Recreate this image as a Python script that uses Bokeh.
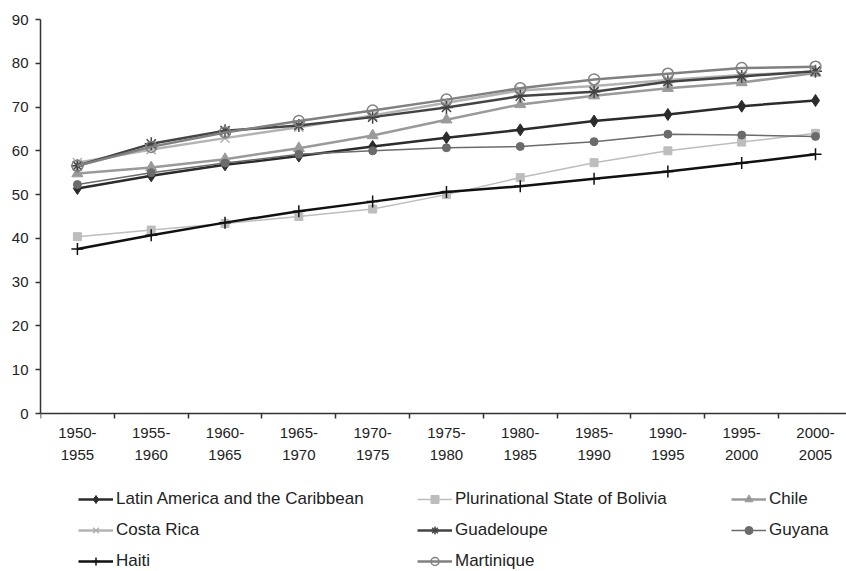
from bokeh.plotting import figure
from bokeh.models import (ColumnDataSource, Range1d, FixedTicker, Legend, LegendItem)
from bokeh.embed import file_html
from bokeh.resources import INLINE

periods = ["1950-\n1955", "1955-\n1960", "1960-\n1965", "1965-\n1970", "1970-\n1975",
           "1975-\n1980", "1980-\n1985", "1985-\n1990", "1990-\n1995", "1995-\n2000",
           "2000-\n2005"]

lac = [51.4, 54.3, 56.8, 58.8, 61.0, 63.0, 64.8, 66.8, 68.3, 70.2, 71.5]
bolivia = [40.4, 41.9, 43.4, 45.0, 46.7, 50.0, 53.9, 57.3, 60.0, 62.0, 64.0]
chile = [54.8, 56.2, 58.1, 60.6, 63.5, 67.1, 70.6, 72.6, 74.3, 75.6, 77.8]
costa_rica = [57.3, 60.3, 62.9, 65.4, 68.1, 71.0, 73.8, 74.8, 76.2, 77.3, 78.1]
guadeloupe = [56.6, 61.6, 64.6, 65.8, 67.7, 69.9, 72.5, 73.5, 75.8, 77.0, 78.2]
guyana = [52.3, 55.0, 57.2, 59.2, 60.0, 60.7, 61.0, 62.1, 63.8, 63.6, 63.3]
haiti = [37.6, 40.7, 43.6, 46.2, 48.4, 50.6, 51.9, 53.6, 55.3, 57.2, 59.2]
martinique = [56.6, 60.9, 64.2, 66.8, 69.2, 71.7, 74.3, 76.3, 77.6, 78.9, 79.2]

y_ticks = [0, 10, 20, 30, 40, 50, 60, 70, 80, 90]

series = [
    # name, values, color, line width, marker, size, marker line width, filled
    ("Latin America and the Caribbean", lac, "#2b2b2b", 2.5, "diamond", 12, 1, True),
    ("Plurinational State of Bolivia", bolivia, "#bdbdbd", 1.5, "square", 8, 1, True),
    ("Chile", chile, "#9a9a9a", 2.5, "triangle", 11, 1, True),
    ("Costa Rica", costa_rica, "#b3b3b3", 2.5, "x", 13, 1.5, True),
    ("Guadeloupe", guadeloupe, "#444444", 2.5, "asterisk", 13, 1.5, True),
    ("Guyana", guyana, "#6b6b6b", 1.5, "circle", 8, 1, True),
    ("Haiti", haiti, "#111111", 2.5, "cross", 12, 1.5, True),
    ("Martinique", martinique, "#808080", 2.5, "circle", 11, 1.5, False),
]

FONT = "Liberation Sans"
n = len(periods)
xs = list(range(n))

# frame spans the whole lower area; the x axis is pinned at y=0
p = figure(width=846, height=571, output_backend="svg", toolbar_location=None,
           x_range=Range1d(-0.5, 10.42), y_range=Range1d(-36.09, 90),
           min_border_left=40, min_border_top=19, min_border_right=0,
           min_border_bottom=0)
p.outline_line_color = None
p.xgrid.visible = False
p.ygrid.visible = False
p.background_fill_color = "white"
p.border_fill_color = "white"

# x axis
xa = p.xaxis[0]
xa.fixed_location = 0
xa.ticker = FixedTicker(ticks=xs, minor_ticks=[i - 0.5 for i in xs])
xa.major_label_overrides = {i: lab for i, lab in enumerate(periods)}
xa.major_tick_out = 0
xa.major_tick_in = 0
xa.minor_tick_out = 5
xa.minor_tick_in = 0
xa.minor_tick_line_color = "#333333"
xa.minor_tick_line_width = 1.5
xa.axis_line_color = "#333333"
xa.axis_line_width = 1.5
xa.major_label_standoff = 5
xa.major_label_text_font = FONT
xa.major_label_text_font_size = "15px"
xa.major_label_text_color = "#222222"
xa.major_label_text_line_height = 1.3

# y axis
ya = p.yaxis[0]
ya.bounds = (0, 90)
ya.ticker = FixedTicker(ticks=y_ticks, minor_ticks=[])
ya.major_tick_out = 5
ya.major_tick_in = 0
ya.major_tick_line_color = "#333333"
ya.major_tick_line_width = 1.5
ya.axis_line_color = "#333333"
ya.axis_line_width = 1.5
ya.major_label_standoff = 7
ya.major_label_text_font = FONT
ya.major_label_text_font_size = "15px"
ya.major_label_text_color = "#222222"

items = {}
for name, vals, color, lw, marker, size, mlw, filled in series:
    src = ColumnDataSource(dict(x=xs, y=vals))
    lr = p.line("x", "y", source=src, line_color=color, line_width=lw, line_join="round")
    sr = p.scatter("x", "y", source=src, marker=marker, size=size,
                   line_color=color, line_width=mlw,
                   fill_color=color if filled else None)
    items[name] = LegendItem(label=name, renderers=[lr, sr])

columns = [
    (["Latin America and the Caribbean", "Costa Rica", "Haiti"], 38),
    (["Plurinational State of Bolivia", "Guadeloupe", "Martinique"], 377),
    (["Chile", "Guyana"], 691),
]
ITEM_H = 20
GAP = 11
full_h = 3 * ITEM_H + 2 * GAP
for names, xoff in columns:
    k = len(names)
    height = k * ITEM_H + (k - 1) * GAP
    leg = Legend(items=[items[nm] for nm in names], location=(xoff, full_h - height),
                 orientation="vertical", glyph_width=35, glyph_height=ITEM_H,
                 label_height=ITEM_H, label_standoff=3, spacing=GAP,
                 padding=0, margin=0, border_line_color=None,
                 background_fill_alpha=0,
                 label_text_font=FONT, label_text_font_size="17px",
                 label_text_color="#222222")
    p.add_layout(leg)

open("out.html", "w").write(file_html(p, INLINE))
